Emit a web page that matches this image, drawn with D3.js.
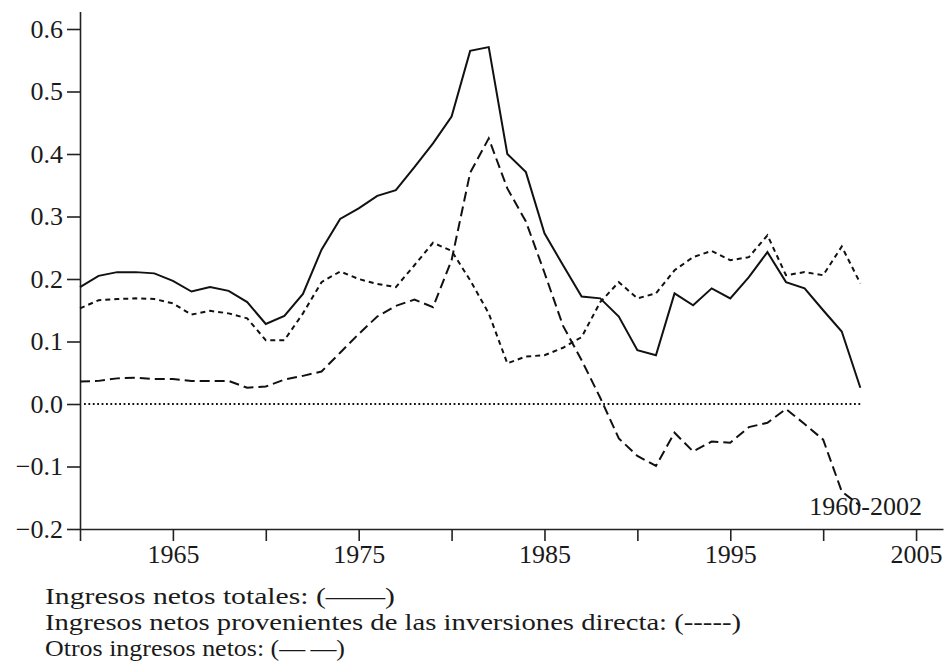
<!DOCTYPE html>
<html lang="es">
<head>
  <meta charset="UTF-8">
  <title>Ingresos netos 1960-2002</title>
  <script src="https://d3js.org/d3.v7.min.js"></script>
  <style>
    body { margin: 0; background: #fff; }
    .axis path, .axis line { stroke: #222; stroke-width: 1.6; }
  </style>
</head>
<body>
<div class="main"></div>
<script>
  // years 1960..2002
  var years = [1960,1961,1962,1963,1964,1965,1966,1967,1968,1969,
               1970,1971,1972,1973,1974,1975,1976,1977,1978,1979,
               1980,1981,1982,1983,1984,1985,1986,1987,1988,1989,
               1990,1991,1992,1993,1994,1995,1996,1997,1998,1999,
               2000,2001,2002];

  // Ingresos netos totales (solid)
  var totalNet = [0.187,0.205,0.211,0.211,0.209,0.197,0.180,0.187,0.181,0.163,
                  0.128,0.141,0.176,0.247,0.296,0.313,0.333,0.342,0.379,0.417,
                  0.460,0.565,0.571,0.400,0.371,0.273,0.222,0.172,0.169,0.140,
                  0.086,0.078,0.177,0.158,0.185,0.169,0.203,0.243,0.195,0.185,
                  0.150,0.116,0.026];

  // Ingresos netos provenientes de las inversiones directa (short dashes)
  var directNet = [0.153,0.166,0.168,0.169,0.168,0.161,0.143,0.149,0.145,0.137,
                   0.102,0.102,0.145,0.195,0.212,0.200,0.192,0.187,0.222,0.258,
                   0.245,0.198,0.145,0.065,0.076,0.078,0.090,0.107,0.163,0.195,
                   0.169,0.177,0.214,0.235,0.245,0.230,0.235,0.270,0.206,0.211,
                   0.206,0.252,0.193];

  // Otros ingresos netos (long dashes)
  var otherNet = [0.036,0.037,0.041,0.042,0.040,0.040,0.037,0.037,0.037,0.026,
                  0.028,0.039,0.045,0.052,0.082,0.112,0.140,0.157,0.167,0.155,
                  0.230,0.370,0.425,0.345,0.292,0.210,0.125,0.070,0.010,-0.055,
                  -0.083,-0.099,-0.046,-0.076,-0.060,-0.062,-0.037,-0.030,-0.008,-0.032,
                  -0.057,-0.140,-0.163];

  var yTicks = [-0.2,-0.1,0.0,0.1,0.2,0.3,0.4,0.5,0.6];
  var xTicks = [1960,1965,1970,1975,1980,1985,1990,1995,2000,2005];
  var xLabeled = [1965,1975,1985,1995,2005];
  var legendLabels = [
    "Ingresos netos totales: (\u2014\u2014)",
    "Ingresos netos provenientes de las inversiones directa: (-----)",
    "Otros ingresos netos: (\u2014\u2009\u2014)"
  ];
  var periodLabel = "1960-2002";

  let width = 945;
  let height = 670;
  let serif = "'Liberation Serif', 'Times New Roman', serif";
  let svg = d3.select(".main").append("svg").attr("width", width).attr("height", height).style("display", "block");

  let x = d3.scaleLinear().domain([1960, 2006.45]).range([80, 943]);
  let y = d3.scaleLinear().domain([-0.2, 0.628]).range([529, 11.5]);

  // y axis
  let yAxis = svg.append("g").attr("class", "axis").attr("transform", "translate(80,0)")
    .call(d3.axisLeft(y).tickValues(yTicks).tickSize(13).tickSizeOuter(0).tickPadding(4)
      .tickFormat(d3.format(".1f")));

  // x axis
  let xAxis = svg.append("g").attr("class", "axis").attr("transform", "translate(0,529)")
    .call(d3.axisBottom(x).tickValues(xTicks).tickSize(12).tickSizeOuter(0).tickPadding(4)
      .tickFormat(d => xLabeled.includes(d) ? d : ""));

  svg.selectAll(".axis").attr("font-family", null).attr("font-size", null);
  svg.selectAll(".axis text").style("font-family", serif).style("font-size", "26px").style("fill", "#1a1a1a");

  // dotted zero line
  svg.append("line").attr("x1", x(1960) + 4).attr("x2", x(2002) + 2).attr("y1", y(0)).attr("y2", y(0))
    .style("stroke", "#111").style("stroke-width", 1.8).style("stroke-dasharray", "1.8,2.6");

  let line = d3.line().x((d, i) => x(years[i])).y(d => y(d));

  svg.append("path").datum(totalNet).attr("d", line)
    .style("fill", "none").style("stroke", "#111").style("stroke-width", 2);
  svg.append("path").datum(directNet).attr("d", line)
    .style("fill", "none").style("stroke", "#111").style("stroke-width", 2).style("stroke-dasharray", "5,4");
  svg.append("path").datum(otherNet).attr("d", line)
    .style("fill", "none").style("stroke", "#111").style("stroke-width", 2).style("stroke-dasharray", "10,5");

  // period label
  svg.append("text").attr("x", 922).attr("y", 515).attr("text-anchor", "end")
    .style("font-family", serif).style("font-size", "26px").style("fill", "#1a1a1a").text(periodLabel);

  // legend
  let legendWidths = [350, 696, 300];
  for (let idx = 0; idx < legendLabels.length; idx++) {
    svg.append("text").attr("x", 45).attr("y", 604 + idx * 26)
      .attr("textLength", legendWidths[idx]).attr("lengthAdjust", "spacingAndGlyphs")
      .style("font-family", serif).style("font-size", "24px").style("fill", "#1a1a1a")
      .text(legendLabels[idx]);
  }
</script>
</body>
</html>
